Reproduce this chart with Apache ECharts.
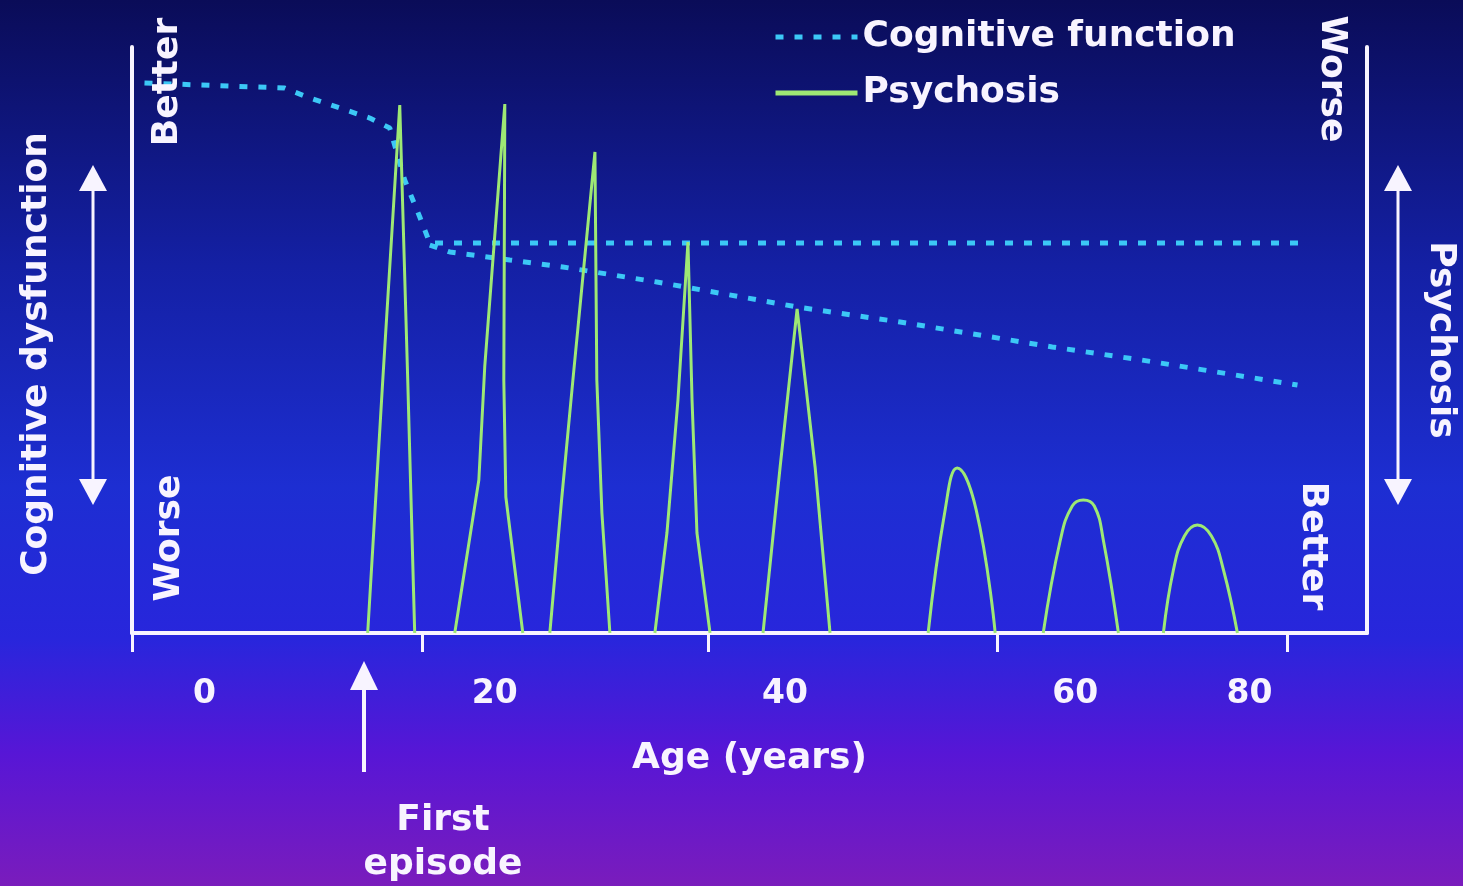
<!DOCTYPE html>
<html>
<head>
<meta charset="utf-8">
<script src="https://cdn.jsdelivr.net/npm/echarts@6/dist/echarts.min.js"></script>
<style>
html,body{margin:0;padding:0;width:1463px;height:886px;overflow:hidden;}
#chart{width:1463px;height:886px;}
</style>
</head>
<body>
<div id="chart"></div>
<script>
// ---- data (x = age in years, y = level 0..100) ----
const tickAges = [-5, 15, 34.7, 54.6, 74.6];
const tickLabelAges = [0, 20, 40, 60, 72];
const tickLabels = ['0', '20', '40', '60', '80'];

const cognitiveStable = [[-4.14,93.86],[5.52,93.0],[7.24,91.3],[11.38,87.88],[12.76,86.18],[13.79,77.3],[14.83,70.99],[15.52,66.55],[76.07,66.55]];
const cognitiveDecline = [[15.52,66.2],[16.9,65.02],[21.03,63.65],[24.69,62.46],[31.17,59.9],[37.38,57.17],[40.83,55.63],[47.93,53.07],[58.41,48.81],[64.55,46.59],[75.31,42.32]];

const episode1 = [[11.24,0],[12.28,43.17],[13.45,90.1],[14.0,43.17],[14.48,0]];
const episode2 = [[17.24,0],[18.9,26.11],[19.31,45.6],[20.69,90.27],[20.62,43.17],[20.76,23.21],[21.93,0]];
const episode3 = [[23.79,0],[24.62,23.21],[25.38,43.17],[26.9,82.08],[27.03,43.17],[27.38,20.48],[27.93,0]];
const episode4 = [[31.03,0],[31.86,17.06],[32.62,39.76],[33.31,66.72],[33.59,39.76],[33.93,17.06],[34.83,0]];
const episode5 = [[38.48,0],[39.66,28.33],[40.83,55.29],[42.07,28.33],[43.1,0]];
const episode6 = [[49.86,0],[51.03,21.0],[51.86,28.16],[53.17,21.0],[54.48,0]];
const episode7 = [[57.79,0],[58.97,15.87],[59.79,21.67],[60.55,22.7],[61.31,21.67],[61.93,15.87],[62.97,0]];
const episode8 = [[66.07,0],[66.76,10.75],[67.52,16.55],[68.41,18.43],[69.38,16.55],[70.21,10.75],[71.17,0]];

// ---- styling ----
const FONT = 'DejaVu Sans';
const WHITE = '#f8f4ff';
const CYAN = '#3cc8f6';
const GREEN = '#9ee874';

const chart = echarts.init(document.getElementById('chart'), null, {renderer: 'canvas'});

const sharpEpisodes = [episode1, episode2, episode3, episode4, episode5];
const roundEpisodes = [episode6, episode7, episode8];

const series = [
  {name: 'Cognitive function', type: 'line', data: cognitiveStable, symbol: 'none',
   lineStyle: {color: CYAN, width: 5, type: [8, 11]}, itemStyle: {color: CYAN}, z: 2},
  {name: 'Cognitive function', type: 'line', data: cognitiveDecline, symbol: 'none',
   lineStyle: {color: CYAN, width: 5, type: [8, 11]}, itemStyle: {color: CYAN}, z: 2}
];
sharpEpisodes.forEach(d => series.push({name: 'Psychosis', type: 'line', data: d, symbol: 'none',
  lineStyle: {color: GREEN, width: 3}, itemStyle: {color: GREEN}, z: 3}));
roundEpisodes.forEach(d => series.push({name: 'Psychosis', type: 'line', data: d, symbol: 'none', smooth: 0.45,
  lineStyle: {color: GREEN, width: 3}, itemStyle: {color: GREEN}, z: 3}));

function txt(text, x, y, rot) {
  return {type: 'text', x: x, y: y, rotation: rot, z: 10,
    style: {text: text, fill: WHITE, font: 'bold 36px "' + FONT + '"', align: 'center', verticalAlign: 'middle'}};
}
function dblArrow(x) {
  return [
    {type: 'line', shape: {x1: x, y1: 185, x2: x, y2: 485}, style: {stroke: WHITE, lineWidth: 3}},
    {type: 'polygon', shape: {points: [[x - 14, 191], [x, 165], [x + 14, 191]]}, style: {fill: WHITE}},
    {type: 'polygon', shape: {points: [[x - 14, 479], [x, 505], [x + 14, 479]]}, style: {fill: WHITE}}
  ];
}

const option = {
  backgroundColor: {type: 'linear', x: 0, y: 0, x2: 0, y2: 1, colorStops: [
    {offset: 0, color: '#0a0c58'},
    {offset: 0.3, color: '#1420a4'},
    {offset: 0.55, color: '#1d2ed2'},
    {offset: 0.72, color: '#2826dc'},
    {offset: 0.85, color: '#5716d6'},
    {offset: 1, color: '#7a1cbc'}
  ]},
  animation: false,
  textStyle: {fontFamily: FONT},
  grid: {left: 132, right: 96, top: 47, bottom: 253, containLabel: false},
  legend: {
    left: 768, top: 12, orient: 'vertical', itemWidth: 82, itemHeight: 14, itemGap: 16,
    itemStyle: {opacity: 0},
    data: [
      {name: 'Cognitive function', lineStyle: {width: 5, type: [8, 11], color: CYAN}},
      {name: 'Psychosis', lineStyle: {width: 5, color: GREEN}}
    ],
    textStyle: {color: WHITE, fontSize: 36, fontWeight: 'bold', fontFamily: FONT, lineHeight: 40}
  },
  xAxis: {
    type: 'value', min: -5, max: 80.1,
    name: 'Age (years)', nameLocation: 'middle', nameGap: 108,
    nameTextStyle: {color: WHITE, fontSize: 36, fontWeight: 'bold', fontFamily: FONT},
    axisLine: {show: true, onZero: false, lineStyle: {color: WHITE, width: 4}},
    axisTick: {show: true, inside: false, length: 19, lineStyle: {color: WHITE, width: 3}, customValues: tickAges},
    axisLabel: {show: true, margin: 45, color: WHITE, fontSize: 33, fontWeight: 'bold', fontFamily: FONT,
      customValues: tickLabelAges,
      formatter: v => { const i = tickLabelAges.indexOf(v); return i >= 0 ? tickLabels[i] : ''; }},
    splitLine: {show: false}
  },
  yAxis: [
    {type: 'value', min: 0, max: 100, position: 'left',
     axisLine: {show: true, onZero: false, lineStyle: {color: WHITE, width: 4}},
     axisTick: {show: false}, axisLabel: {show: false}, splitLine: {show: false}},
    {type: 'value', min: 0, max: 100, position: 'right',
     axisLine: {show: true, onZero: false, lineStyle: {color: WHITE, width: 4}},
     axisTick: {show: false}, axisLabel: {show: false}, splitLine: {show: false}}
  ],
  series: series,
  graphic: [
    txt('Cognitive dysfunction', 37, 354, Math.PI / 2),
    txt('Better', 168, 82, Math.PI / 2),
    txt('Worse', 170, 538, Math.PI / 2),
    txt('Worse', 1331, 79, -Math.PI / 2),
    txt('Better', 1312, 546, -Math.PI / 2),
    txt('Psychosis', 1440, 340, -Math.PI / 2),
    ...dblArrow(93),
    ...dblArrow(1398),
    {type: 'line', shape: {x1: 364, y1: 685, x2: 364, y2: 772}, style: {stroke: WHITE, lineWidth: 4}},
    {type: 'polygon', shape: {points: [[350, 690], [364, 661], [378, 690]]}, style: {fill: WHITE}},
    {type: 'text', x: 443, y: 843, z: 10,
     style: {text: 'First\nepisode', fill: WHITE, font: 'bold 36px "' + FONT + '"', lineHeight: 44, align: 'center', verticalAlign: 'middle'}}
  ]
};
chart.setOption(option);
</script>
</body>
</html>
